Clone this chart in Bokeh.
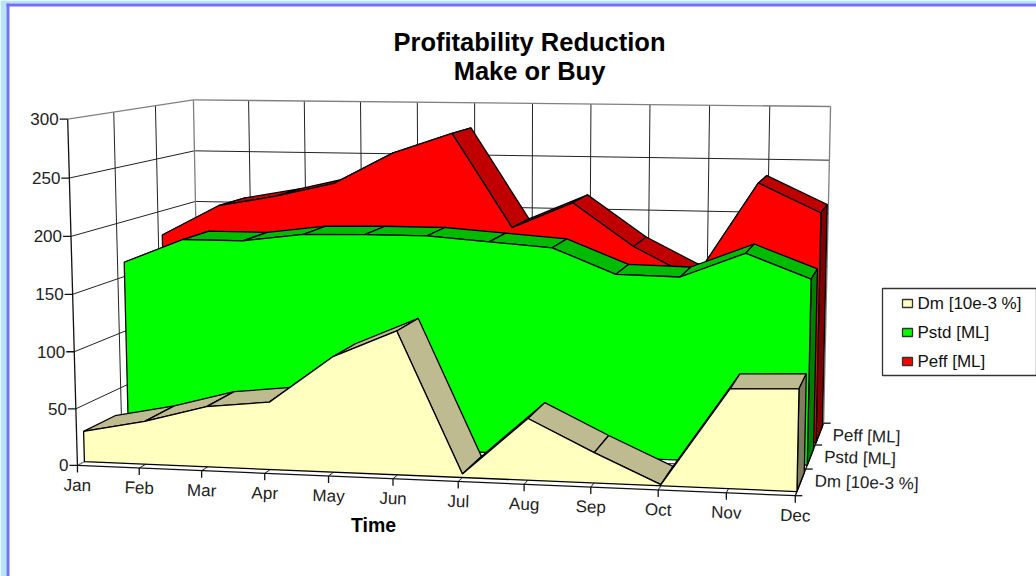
import numpy as np
from bokeh.plotting import figure
from bokeh.embed import file_html
from bokeh.resources import INLINE
from bokeh.core.properties import value

months = ["Jan","Feb","Mar","Apr","May","Jun","Jul","Aug","Sep","Oct","Nov","Dec"]
dm   = [27,38,53,59,100,124,3,53,26,1,84,86]
pstd = [163,185,185,192,193,193,189,185,163,162,184,163]
peff = [177,206,216,229,258,277,191,215,176,148,236,210]
series_names = ["Dm [10e-3 %]","Pstd [ML]","Peff [ML]"]
y_ticks = [0,50,100,150,200,250,300]
FONT = value("Liberation Sans")

# colours: front, top, side
COL = {"Dm":("#FFFFC0","#BFBB90","#807D60"),"Pstd":("#00FF00","#00BB00","#008000"),"Peff":("#FF0000","#C00000","#800000")}
Z_DM=(.05,.285); Z_G=(.385,.61); Z_R=(.70,.95)

# perspective camera, fitted to the box of the 3-D chart (corners count more)
corr = [((0,0,0),(77,465),3),((1,0,0),(795,495),3),((1,0,1),(823,423),3),
        ((0,1,0),(67,119),3),((0,1,1),(193,99),3),((1,1,1),(830,106),3),
        ((0,50/300,0),(76,408),1),((0,100/300,0),(74,351),1),((0,.5,0),(72,293),1),((0,200/300,0),(71,236),1),((0,250/300,0),(69,178),1),
        ((0,250/300,1),(194,151),1),((0,200/300,1),(195,201),1),((1,250/300,1),(829,160),1),((1,200/300,1),(828,211),1),
        ((5/11,0,0),(392,478),1),((8/11,0,0),(590,486),1),((2/11,0,0),(200,470),1),
        ((5/11,1,1),(474,103),1),((8/11,1,1),(650,105),1)]
A=[]
for (x,y,z),(u,v),k in corr:
    X=[x,y,z,1]
    A.append([k*c for c in X+[0,0,0,0]+[-u*c for c in X]])
    A.append([k*c for c in [0,0,0,0]+X+[-v*c for c in X]])
P=np.linalg.svd(np.array(A,float))[2][-1].reshape(3,4)
def pr(i,y,z):
    w=P@np.array([i/11,y/300,z,1.0]); return w[0]/w[2],w[1]/w[2]
def poly(pts):
    q=[pr(*t) for t in pts]; return [a for a,b in q],[b for a,b in q]

p=figure(width=1036,height=576,x_range=(0,1036),y_range=(576,0),output_backend="svg",
         toolbar_location=None,min_border=0,outline_line_color=None,background_fill_color="white")
p.axis.visible=False; p.grid.visible=False

# page frame
p.quad(left=[0,0],right=[6,1036],top=[0,0],bottom=[576,3],fill_color="#B8E4F8",line_color=None)
p.quad(left=[6,6],right=[9,1036],top=[3,3],bottom=[576,6],fill_color="#7070FF",line_color=None)

# walls and floor grid
gx,gy=[],[]
def seg(a,b):
    x,y=poly([a,b]); gx.append(x); gy.append(y)
for v in y_ticks[1:-1]:
    seg((0,v,0),(0,v,1)); seg((0,v,1),(11,v,1))
for z in (1/3,2/3):
    seg((0,0,z),(0,300,z)); seg((0,0,z),(11,0,z))
for i in range(1,11):
    seg((i,0,1),(i,300,1)); seg((i,0,0),(i,0,1))
p.multi_line(gx,gy,line_color="#222222",line_width=1)
ex,ey=[],[]
for a,b in [((0,300,0),(0,300,1)),((0,300,1),(11,300,1)),((0,0,1),(0,300,1)),((11,0,1),(11,300,1)),((0,0,1),(11,0,1)),((0,0,0),(0,0,1))]:
    x,y=poly([a,b]); ex.append(x); ey.append(y)
p.multi_line(ex,ey,line_color="#808080",line_width=1.3)

# axes and ticks
ax,ay=[],[]
for a,b in [((0,0,0),(11,0,0)),((11,0,0),(11,0,1)),((0,0,0),(0,300,0))]:
    x,y=poly([a,b]); ax.append(x); ay.append(y)
for v in y_ticks:
    u,w=pr(0,v,0); ax.append([u-8,u]); ay.append([w,w])
for i in range(12):
    u,w=pr(i,0,0); ax.append([u,u]); ay.append([w,w+7])
for z in (0,1/3,2/3,1):
    u,w=pr(11,0,z); ax.append([u,u+7]); ay.append([w,w])
p.multi_line(ax,ay,line_color="#111111",line_width=1.3)

# the three area bands, back to front
xs,ys,cs=[],[],[]
def band(vals,zr,cols):
    z0,z1=zr
    for i in range(11):
        x,y=poly([(i,vals[i],z0),(i+1,vals[i+1],z0),(i+1,vals[i+1],z1),(i,vals[i],z1)])
        xs.append(x); ys.append(y); cs.append(cols[1])
    x,y=poly([(11,0,z0),(11,vals[11],z0),(11,vals[11],z1),(11,0,z1)])
    xs.append(x); ys.append(y); cs.append(cols[2])
    x,y=poly([(0,0,z0)]+[(i,vals[i],z0) for i in range(12)]+[(11,0,z0)])
    xs.append(x); ys.append(y); cs.append(cols[0])
band(peff,Z_R,COL["Peff"]); band(pstd,Z_G,COL["Pstd"]); band(dm,Z_DM,COL["Dm"])
p.patches(xs,ys,fill_color=cs,line_color="#000000",line_width=1.3)

# tick labels
tx=[pr(0,v,0)[0]-9 for v in y_ticks]; ty=[pr(0,v,0)[1] for v in y_ticks]
p.text(tx,ty,text=[str(v) for v in y_ticks],text_font=FONT,text_font_size="17px",text_color="#222222",text_align="right",text_baseline="middle")
tx=[pr(i,0,0)[0] for i in range(12)]; ty=[pr(i,0,0)[1]+20 for i in range(12)]
p.text(tx,ty,text=months,text_font=FONT,text_font_size="17px",text_color="#222222",text_align="center",text_baseline="middle",angle=-0.03)
tx=[pr(11,0,z)[0]+9 for z in (1/3,2/3,1)]; ty=[pr(11,0,z)[1]+12 for z in (1/3,2/3,1)]
p.text(tx,ty,text=series_names,text_font=FONT,text_font_size="17px",text_color="#222222",text_align="left",text_baseline="middle",angle=-0.03)

# titles
p.text([529,529],[41,70],text=["Profitability Reduction","Make or Buy"],text_font=FONT,text_font_size="25.5px",text_font_style="bold",text_color="#000000",text_align="center",text_baseline="middle")
p.text([373],[524],text=["Time"],text_font=FONT,text_font_size="19.5px",text_font_style="bold",text_color="#000000",text_align="center",text_baseline="middle")

# legend
p.quad(left=[882],right=[1036],top=[288],bottom=[375],fill_color="white",line_color="#333333",line_width=1.3)
ly=[303,332,361]
p.quad(left=[902]*3,right=[912]*3,top=[a-4 for a in ly],bottom=[a+4 for a in ly],fill_color=[COL["Dm"][0],COL["Pstd"][0],COL["Peff"][0]],line_color="#333333",line_width=1.3)
p.text([917]*3,ly,text=series_names,text_font=FONT,text_font_size="17px",text_color="#111111",text_align="left",text_baseline="middle")

open("out.html","w").write(file_html(p,INLINE))
